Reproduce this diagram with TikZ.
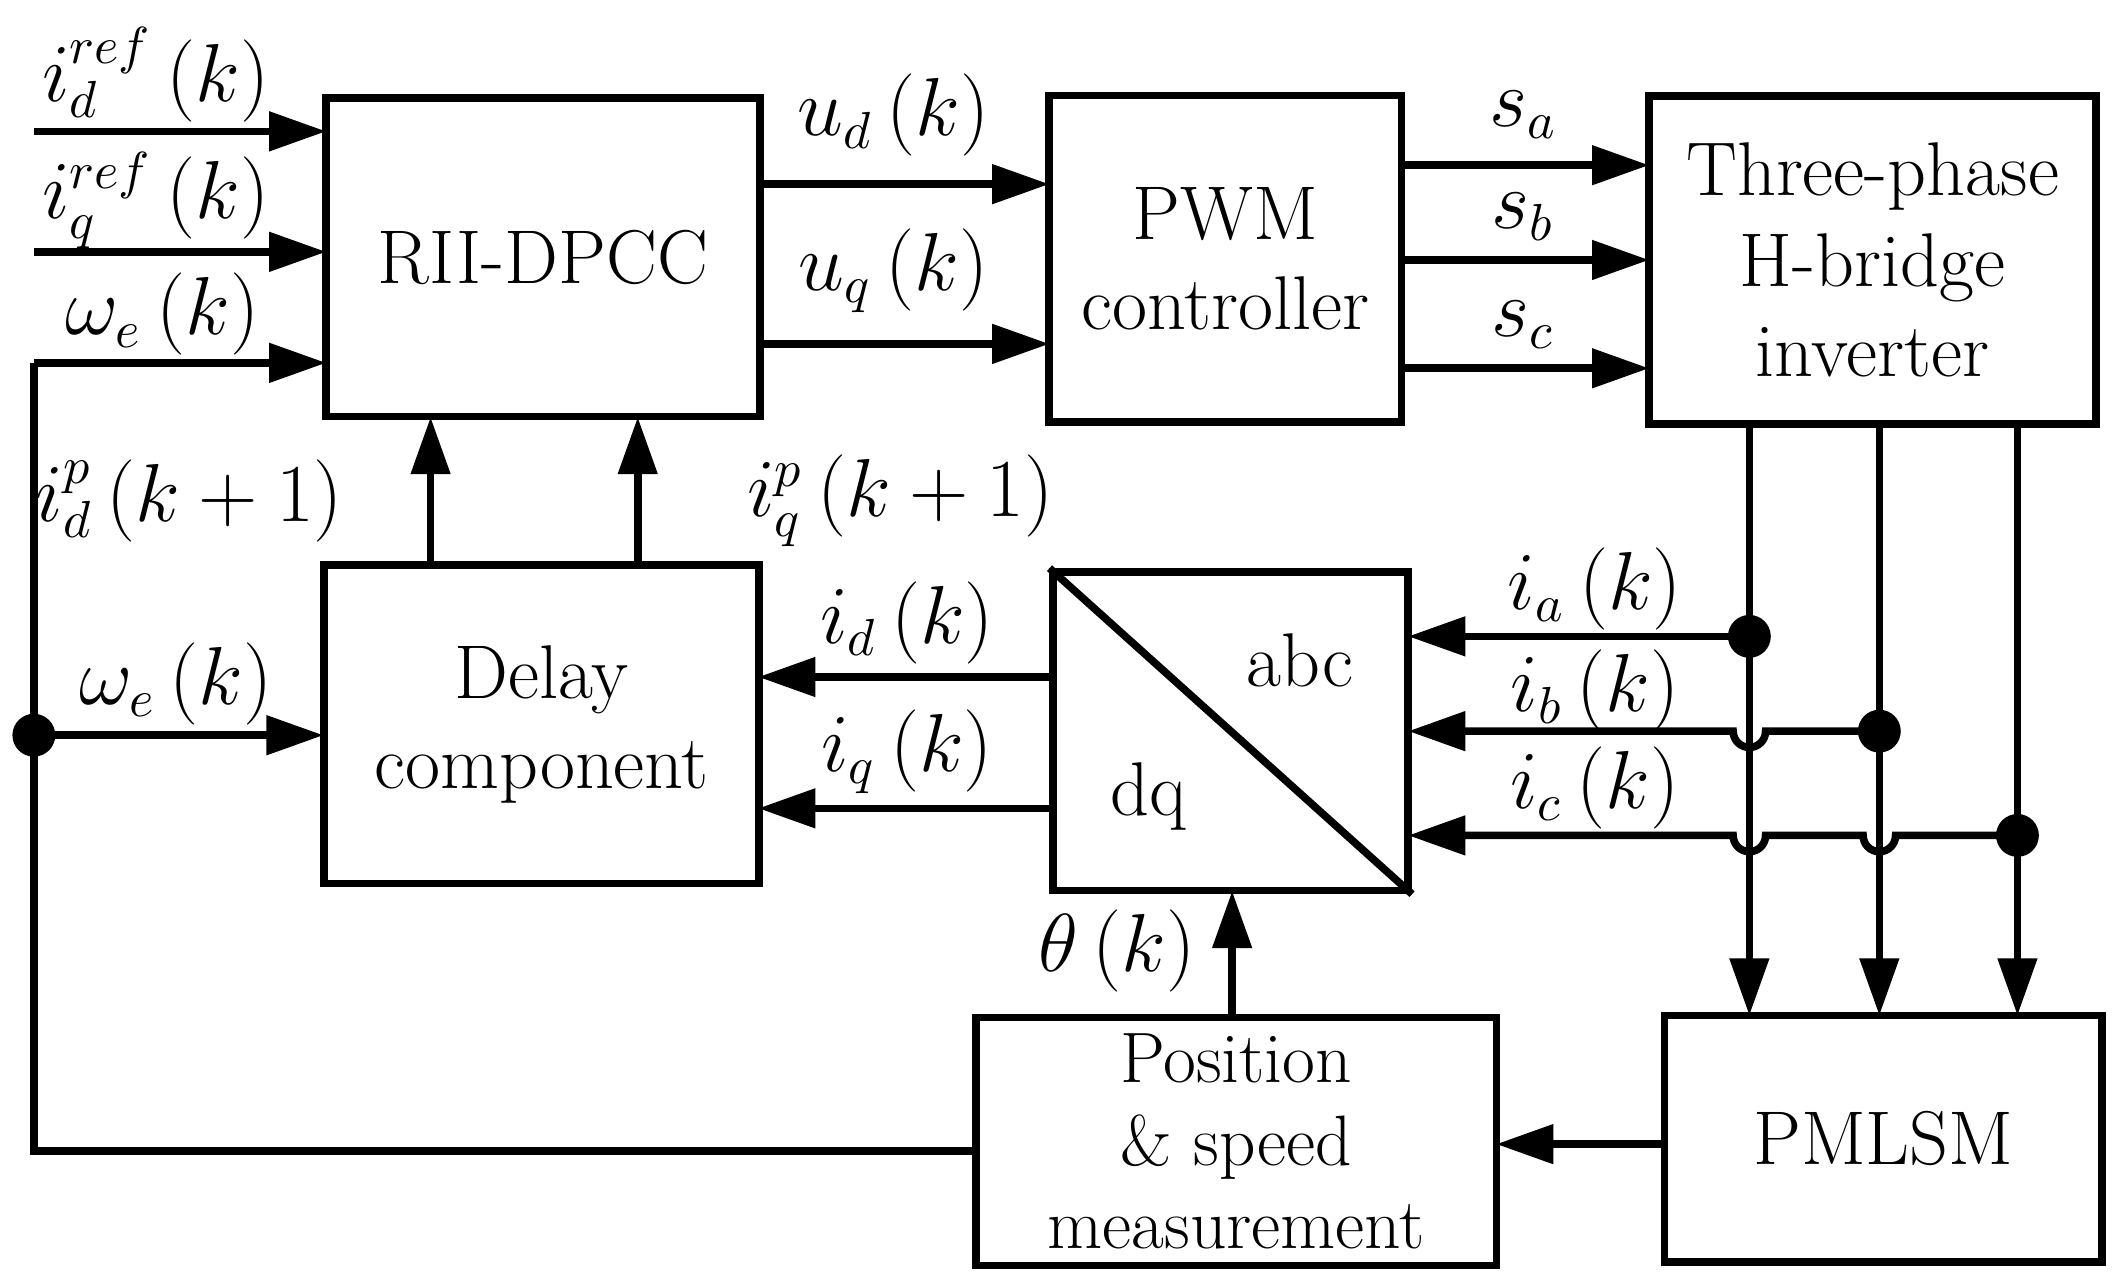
\documentclass[tikz,border=0pt]{standalone}
\usetikzlibrary{arrows.meta}
\begin{document}
\begin{tikzpicture}[x=0.01cm,y=-0.01cm,line width=1.6pt,
  blk/.style={draw,line width=1.6pt,inner sep=0,align=center,font=\fontsize{16}{19}\selectfont},
  ar/.style={-{Triangle[length=12pt,width=8pt]}},
  lb/.style={font=\fontsize{16}{19}\selectfont,inner sep=1pt},
  dot/.style={circle,fill,inner sep=0,minimum size=9pt}]
\useasboundingbox (0,0) rectangle (1565,951);
\node[blk,minimum width=3.2cm,minimum height=2.35cm] (rii) at (401,190) {RII-DPCC};
\node[blk,minimum width=2.6cm,minimum height=2.41cm] (pwm) at (905,191) {PWM\\controller};
\node[blk,minimum width=3.3cm,minimum height=2.42cm] (inv) at (1383,192) {Three-phase\\H-bridge\\inverter};
\node[blk,minimum width=3.21cm,minimum height=2.35cm] (del) at (400,535) {Delay\\component};
\node[blk,minimum width=2.62cm,minimum height=2.35cm] (tr) at (909,540) {};
\draw (tr.north west) -- (tr.south east);
\node[font=\fontsize{16}{20}\selectfont] at (960,488) {abc};
\node[font=\fontsize{16}{20}\selectfont] at (848,588) {dq};
\node[blk,minimum width=3.84cm,minimum height=1.83cm,font=\fontsize{15}{17.5}\selectfont] (pos) at (913,843) {Position\\\& speed\\measurement};
\node[blk,minimum width=3.23cm,minimum height=1.82cm] (pm) at (1391,841) {PMLSM};
% inputs
\coordinate (a1) at (25,97); \coordinate (a2) at (25,186); \coordinate (a3) at (25,268);
\coordinate (b1) at (241,97); \coordinate (b2) at (241,186); \coordinate (b3) at (241,268);
\draw[ar] (a1) -- (b1); \draw[ar] (a2) -- (b2); \draw[ar] (a3) -- (b3);
\coordinate (c1) at (25,850); \coordinate (c2) at (721,850);
\draw (a3) -- (c1) -- (c2);
\node[dot] (d0) at (25,543) {};
\coordinate (e0) at (239,543);
\draw[ar] (d0.center) -- (e0);
% u
\foreach \y in {136,254}{\draw[ar] (561,\y) -- (775,\y);}
\foreach \y in {122,192,272}{\draw[ar] (1035,\y) -- (1218,\y);}
\foreach \x in {318,471}{\draw[ar] (\x,418) -- (\x,308);}
\foreach \y in {500,597}{\draw[ar] (778,\y) -- (560,\y);}
% currents
\node[dot] (da) at (1292,470) {};
\node[dot] (db) at (1388,540) {};
\node[dot] (dc) at (1490,617) {};
\draw[ar] (da.center) -- (1040,470);
\draw[ar] (db.center) -- (1304,540) arc (0:180:12) -- (1040,540);
\draw[ar] (dc.center) -- (1400,617) arc (0:180:12) -- (1304,617) arc (0:180:12) -- (1040,617);
\foreach \x in {1292,1388,1490}{\draw[ar] (\x,313) -- (\x,750);}
\draw[ar] (pm.west |- 0,845) -- (1105,845);
\draw[ar] (910,752) -- (910,658);
% labels
\node[lb] at (115,55) {$i_d^{ref}\left(k\right)$};
\node[lb] at (115,148) {$i_q^{ref}\left(k\right)$};
\node[lb] at (120,232) {$\omega_e\left(k\right)$};
\node[lb] at (660,85) {$u_d\left(k\right)$};
\node[lb] at (660,200) {$u_q\left(k\right)$};
\node[lb] at (1125,85) {$s_a$};
\node[lb] at (1125,160) {$s_b$};
\node[lb] at (1125,240) {$s_c$};
\node[lb] at (140,370) {$i_d^p\left(k+1\right)$};
\node[lb] at (665,370) {$i_q^p\left(k+1\right)$};
\node[lb] at (130,505) {$\omega_e\left(k\right)$};
\node[lb] at (670,460) {$i_d\left(k\right)$};
\node[lb] at (670,555) {$i_q\left(k\right)$};
\node[lb] at (1178,435) {$i_a\left(k\right)$};
\node[lb] at (1178,510) {$i_b\left(k\right)$};
\node[lb] at (1178,582) {$i_c\left(k\right)$};
\node[lb] at (825,702) {$\theta\left(k\right)$};
\end{tikzpicture}
\end{document}
